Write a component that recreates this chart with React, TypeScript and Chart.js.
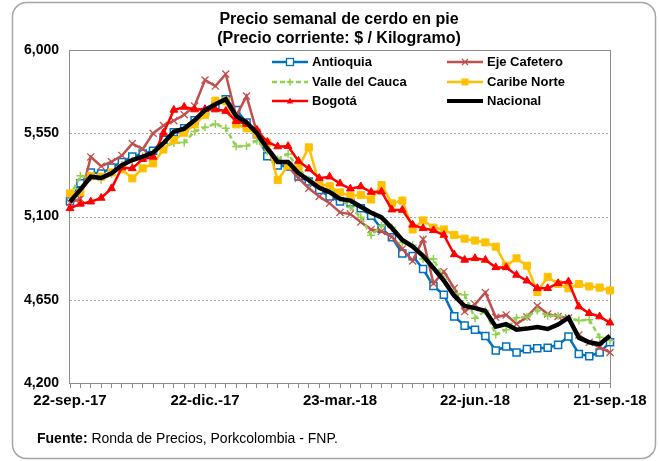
import React, { useEffect, useRef } from 'react';
import { Chart, registerables } from 'chart.js';

Chart.register(...registerables);

const FONT = '"Liberation Sans", Arial, sans-serif';

const categories = [
  '22-sep.-17', '29-sep.-17', '6-oct.-17', '13-oct.-17', '20-oct.-17', '27-oct.-17',
  '3-nov.-17', '10-nov.-17', '17-nov.-17', '24-nov.-17', '1-dic.-17', '8-dic.-17',
  '15-dic.-17', '22-dic.-17', '29-dic.-17', '5-ene.-18', '12-ene.-18', '19-ene.-18',
  '26-ene.-18', '2-feb.-18', '9-feb.-18', '16-feb.-18', '23-feb.-18', '2-mar.-18',
  '9-mar.-18', '16-mar.-18', '23-mar.-18', '30-mar.-18', '6-abr.-18', '13-abr.-18',
  '20-abr.-18', '27-abr.-18', '4-may.-18', '11-may.-18', '18-may.-18', '25-may.-18',
  '1-jun.-18', '8-jun.-18', '15-jun.-18', '22-jun.-18', '29-jun.-18', '6-jul.-18',
  '13-jul.-18', '20-jul.-18', '27-jul.-18', '3-ago.-18', '10-ago.-18', '17-ago.-18',
  '24-ago.-18', '31-ago.-18', '7-sep.-18', '14-sep.-18', '21-sep.-18',
];
const labeledTicks = ['22-sep.-17', '22-dic.-17', '23-mar.-18', '22-jun.-18', '21-sep.-18'];
const yTicks = [4200, 4650, 5100, 5550, 6000];

const antioquia = [
  5182, 5280, 5338, 5332, 5365, 5395, 5424, 5440, 5455, 5515, 5555, 5577, 5620, 5665, 5700, 5733,
  5676, 5608, 5545, 5426, 5376, 5370, 5316, 5289, 5244, 5208, 5181, 5176, 5145, 5104, 5034, 4988,
  4900, 4886, 4816, 4724, 4677, 4560, 4510, 4488, 4454, 4376, 4397, 4365, 4383, 4388, 4391, 4406,
  4451, 4357, 4345, 4365, 4420,
];
const ejeCafetero = [
  5175, 5196, 5422, 5372, 5396, 5430, 5494, 5464, 5550, 5592, 5618, 5650, 5697, 5838, 5805, 5870,
  5643, 5751, 5555, 5478, 5406, 5370, 5307, 5253, 5208, 5172, 5122, 5113, 5070, 5030, 5020, 4990,
  4925, 4860, 4977, 4738, 4802, 4712, 4586, 4625, 4689, 4555, 4568, 4519, 4557, 4617, 4573, 4560,
  4551, 4460, 4420, 4392, 4365,
];
const valleDelCauca = [
  5208, 5320, 5311, 5298, 5330, 5379, 5401, 5424, 5446, 5475, 5497, 5500, 5560, 5582, 5600, 5577,
  5478, 5481, 5510, 5451, 5410, 5438, 5361, 5298, 5271, 5263, 5200, 5150, 5096, 4998, 5050, 5040,
  4960, 4944, 4870, 4870, 4762, 4684, 4677, 4550, 4590, 4462, 4488, 4553, 4557, 4592, 4564, 4564,
  4551, 4538, 4542, 4447, 4430,
];
const caribeNorte = [
  5225, 5232, 5318, 5315, 5338, 5355, 5306, 5360, 5387, 5462, 5514, 5553, 5598, 5649, 5726, 5724,
  5598, 5577, 5545, 5498, 5297, 5375, 5365, 5474, 5278, 5263, 5230, 5211, 5216, 5192, 5270, 5171,
  5186, 5030, 5079, 5040, 5030, 5000, 4980, 4970, 4960, 4937, 4834, 4874, 4834, 4692, 4774, 4735,
  4712, 4735, 4722, 4716, 4700,
];
const bogota = [
  5144, 5168, 5180, 5200, 5252, 5365, 5360, 5410, 5422, 5552, 5676, 5692, 5678, 5680, 5678, 5670,
  5615, 5600, 5568, 5503, 5478, 5480, 5400, 5358, 5307, 5315, 5278, 5250, 5262, 5232, 5234, 5137,
  5135, 5055, 5036, 5025, 5000, 4895, 4865, 4874, 4865, 4825, 4825, 4784, 4753, 4712, 4712, 4739,
  4748, 4613, 4577, 4559, 4526,
];
const nacional = [
  5180, 5245, 5315, 5308, 5334, 5378, 5405, 5423, 5445, 5496, 5558, 5575, 5620, 5675, 5707, 5734,
  5642, 5608, 5550, 5468, 5395, 5395, 5335, 5296, 5255, 5232, 5195, 5186, 5153, 5120, 5095, 5038,
  4973, 4938, 4888, 4822, 4753, 4672, 4616, 4605, 4590, 4504, 4518, 4488, 4494, 4503, 4492, 4516,
  4553, 4445, 4420, 4410, 4455,
];

type Marker = 'openRect' | 'crossRot' | 'cross' | 'rect' | 'triangle' | 'dot';
const series: { label: string; data: number[]; color: string; marker: Marker; width: number; dash?: number[] }[] = [
  { label: 'Antioquia', data: antioquia, color: '#0070C0', marker: 'openRect', width: 2.5 },
  { label: 'Eje Cafetero', data: ejeCafetero, color: '#C0504D', marker: 'crossRot', width: 2.5 },
  { label: 'Valle del Cauca', data: valleDelCauca, color: '#92D050', marker: 'cross', width: 2.5, dash: [5, 3] },
  { label: 'Caribe Norte', data: caribeNorte, color: '#FFC000', marker: 'rect', width: 2.5 },
  { label: 'Bogotá', data: bogota, color: '#FF0000', marker: 'triangle', width: 2.5 },
  { label: 'Nacional', data: nacional, color: '#000000', marker: 'dot', width: 4.5 },
];

function pointProps(m: Marker, color: string) {
  switch (m) {
    case 'openRect':
      return { pointStyle: 'rect', pointRadius: 5, pointBackgroundColor: '#ffffff', pointBorderColor: color, pointBorderWidth: 1.5 };
    case 'crossRot':
      return { pointStyle: 'crossRot', pointRadius: 5, pointBackgroundColor: color, pointBorderColor: color, pointBorderWidth: 1.3 };
    case 'cross':
      return { pointStyle: 'cross', pointRadius: 4, pointBackgroundColor: color, pointBorderColor: color, pointBorderWidth: 1.5 };
    case 'rect':
      return { pointStyle: 'rect', pointRadius: 5, pointBackgroundColor: color, pointBorderColor: color, pointBorderWidth: 1 };
    case 'triangle':
      return { pointStyle: 'triangle', pointRadius: 4.5, pointBackgroundColor: color, pointBorderColor: color, pointBorderWidth: 1 };
    default:
      return { pointStyle: 'circle', pointRadius: 0, pointBackgroundColor: color, pointBorderColor: color, pointBorderWidth: 0 };
  }
}

function drawLegendMarker(ctx: CanvasRenderingContext2D, m: Marker, x: number, y: number, color: string) {
  ctx.save();
  ctx.strokeStyle = color;
  ctx.fillStyle = color;
  ctx.setLineDash([]);
  ctx.lineWidth = 1.3;
  ctx.beginPath();
  switch (m) {
    case 'openRect':
      ctx.fillStyle = '#fff';
      ctx.fillRect(x - 3.5, y - 3.5, 7, 7);
      ctx.strokeRect(x - 3.5, y - 3.5, 7, 7);
      break;
    case 'crossRot':
      ctx.moveTo(x - 3, y - 3); ctx.lineTo(x + 3, y + 3);
      ctx.moveTo(x + 3, y - 3); ctx.lineTo(x - 3, y + 3);
      ctx.stroke();
      break;
    case 'cross':
      ctx.lineWidth = 1.5;
      ctx.moveTo(x - 3.5, y); ctx.lineTo(x + 3.5, y);
      ctx.moveTo(x, y - 3.5); ctx.lineTo(x, y + 3.5);
      ctx.stroke();
      break;
    case 'rect':
      ctx.fillRect(x - 3.5, y - 3.5, 7, 7);
      break;
    case 'triangle':
      ctx.moveTo(x, y - 3.5); ctx.lineTo(x + 3.2, y + 2.5); ctx.lineTo(x - 3.2, y + 2.5);
      ctx.closePath();
      ctx.fill();
      break;
    default:
      ctx.arc(x, y, 2, 0, Math.PI * 2);
      ctx.fill();
  }
  ctx.restore();
}

export default function App() {
  const ref = useRef<HTMLCanvasElement>(null);

  useEffect(() => {
    const canvas = ref.current;
    if (!canvas) return;

    const decor = {
      id: 'decor',
      beforeDraw(chart: any) {
        const { ctx, chartArea: a } = chart;
        const ys = chart.scales.y;
        ctx.save();
        ctx.fillStyle = '#ffffff';
        ctx.fillRect(0, 0, chart.width, chart.height);
        // outer rounded border
        ctx.strokeStyle = '#a6a6a6';
        ctx.lineWidth = 1.5;
        ctx.beginPath();
        (ctx as any).roundRect(12.5, 2.5, 643, 456, 14);
        ctx.stroke();
        // title
        ctx.fillStyle = '#000';
        ctx.textAlign = 'center';
        ctx.textBaseline = 'middle';
        ctx.font = `bold 16px ${FONT}`;
        ctx.fillText('Precio semanal de cerdo en pie', 339, 20);
        ctx.fillText('(Precio corriente: $ / Kilogramo)', 339, 39);
        // gridlines
        ctx.strokeStyle = '#a6a6a6';
        ctx.lineWidth = 1;
        ctx.setLineDash([2, 2]);
        yTicks.forEach((v) => {
          if (v <= 4200 || v >= 6000) return;
          const py = Math.round(ys.getPixelForValue(v)) + 0.5;
          ctx.beginPath();
          ctx.moveTo(a.left, py);
          ctx.lineTo(a.right, py);
          ctx.stroke();
        });
        ctx.setLineDash([]);
        // plot frame
        ctx.strokeStyle = '#8c8c8c';
        ctx.lineWidth = 1;
        ctx.strokeRect(Math.round(a.left) - 0.5, Math.round(a.top) + 0.5, Math.round(a.right - a.left) + 1, Math.round(a.bottom - a.top));
        ctx.restore();
      },
      afterDraw(chart: any) {
        const { ctx } = chart;
        ctx.save();
        // legend
        const colX = [272, 447];
        const rowY = [62, 82, 101];
        series.forEach((s, i) => {
          const x = colX[i % 2];
          const y = rowY[Math.floor(i / 2)];
          ctx.strokeStyle = s.color;
          ctx.lineWidth = s.marker === 'dot' ? 4 : 2.5;
          ctx.setLineDash(s.dash || []);
          ctx.beginPath();
          ctx.moveTo(x, y);
          ctx.lineTo(x + 36, y);
          ctx.stroke();
          ctx.setLineDash([]);
          drawLegendMarker(ctx, s.marker, x + 18, y, s.color);
          ctx.fillStyle = '#000';
          ctx.font = `bold 13px ${FONT}`;
          ctx.textAlign = 'left';
          ctx.textBaseline = 'middle';
          ctx.fillText(s.label, x + 40, y + 0.5);
        });
        // footer
        ctx.textAlign = 'left';
        ctx.textBaseline = 'middle';
        ctx.font = `bold 14px ${FONT}`;
        ctx.fillText('Fuente:', 37, 439);
        const w = ctx.measureText('Fuente: ').width;
        ctx.font = `14px ${FONT}`;
        ctx.fillText('Ronda de Precios, Porkcolombia - FNP.', 37 + w, 439);
        ctx.restore();
      },
    };

    const datasets = series.map((s, i) => ({
      label: s.label,
      data: s.data,
      borderColor: s.color,
      backgroundColor: s.color,
      borderWidth: s.width,
      borderDash: s.dash || [],
      tension: 0,
      fill: false,
      order: series.length - 1 - i,
      ...pointProps(s.marker, s.color),
    }));

    const chart = new Chart(canvas, {
      type: 'line',
      data: { labels: categories, datasets: datasets as any },
      options: {
        animation: false,
        responsive: false,
        devicePixelRatio: 1,
        layout: { padding: { top: 50, right: 49, bottom: 48, left: 0 } },
        plugins: {
          legend: { display: false },
          title: { display: false },
          tooltip: { enabled: false },
        },
        scales: {
          x: {
            type: 'category',
            offset: false,
            afterFit: (s: any) => { s.height = 30; },
            grid: {
              display: true,
              drawOnChartArea: false,
              drawTicks: true,
              tickLength: 5,
              color: '#8c8c8c',
              tickColor: '#8c8c8c',
            },
            border: { display: false },
            ticks: {
              autoSkip: false,
              maxRotation: 0,
              minRotation: 0,
              padding: 4,
              color: '#000',
              font: { family: FONT, size: 15, weight: 'bold' },
              callback: (_v: any, idx: number) => (labeledTicks.includes(categories[idx]) ? categories[idx] : ''),
            },
          },
          y: {
            min: 4200,
            max: 6000,
            afterFit: (s: any) => { s.width = 70; },
            afterBuildTicks: (s: any) => { s.ticks = yTicks.map((v) => ({ value: v })); },
            grid: { display: false, drawTicks: false },
            border: { display: false },
            ticks: {
              padding: 11,
              color: '#000',
              font: { family: FONT, size: 14, weight: 'bold' },
              callback: (v: any) => Number(v).toLocaleString('en-US'),
            },
          },
        },
      } as any,
      plugins: [decor],
    });

    return () => chart.destroy();
  }, []);

  return (
    <div style={{ position: 'absolute', left: 0, top: 0, width: 659, height: 461 }}>
      <canvas ref={ref} width={659} height={461} style={{ display: 'block' }} />
    </div>
  );
}
